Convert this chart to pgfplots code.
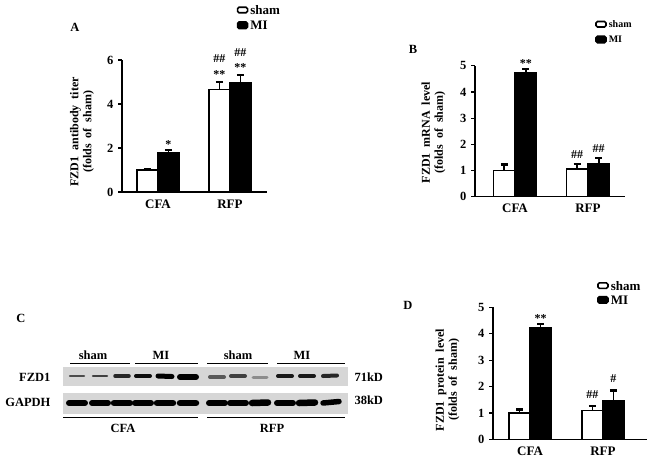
\documentclass[border=0pt]{standalone}
\usepackage{pgfplots}
\pgfplotsset{compat=1.18}
\usepackage{fontspec}
\setmainfont{Liberation Serif}
\newcommand{\lf}{\bfseries\fontsize{12.5}{13}\selectfont}
\newcommand{\stf}{\bfseries\fontsize{12}{12}\selectfont}
\pgfplotsset{
 panel/.style={
   scale only axis, ybar=0pt, clip=false,
   axis x line=bottom, axis y line=left,
   axis line style={-, line width=1.5pt},
   ymin=0, xtick={0,1}, xticklabels={CFA,RFP},
   xtick style={draw=none},
   ytick style={line width=1.2pt, black},
   tick align=outside, major tick length=4pt,
   yticklabel style={font=\bfseries\fontsize{12.5}{13}\selectfont, xshift=-1pt},
   xticklabel style={font=\bfseries\fontsize{13}{14}\selectfont},
   /pgf/number format/assume math mode=true,
   ylabel style={font=\bfseries\fontsize{12}{13}\selectfont, align=center, anchor=south, rotate=0},
   legend style={draw=none, fill=none, anchor=north west, row sep=1pt, inner sep=0pt, /tikz/every even column/.append style={column sep=2pt}},
   legend cell align=left,
 },
 barcommon/.style={draw=black, line width=1.2pt,
   error bars/y dir=plus, error bars/y explicit, error bars/error mark=|,
   error bars/error bar style={line width=1.6pt, black},
   error bars/error mark options={line width=2.5pt, mark size=3.5pt, black}},
 shamb/.style={barcommon, fill=white,
   legend image code/.code={\draw[line width=1.6pt, rounded corners=1.5pt, fill=white] (0pt,-2pt) rectangle (10pt,3.5pt);}},
 mib/.style={barcommon, fill=black,
   legend image code/.code={\draw[line width=1.6pt, rounded corners=1.5pt, fill=black] (0pt,-2.5pt) rectangle (10pt,4pt);}},
}
\begin{document}
\begin{tikzpicture}
\useasboundingbox (0pt,0pt) rectangle (650pt,459pt);
% ---------- canvas (panel C and panel letters), pixel coordinates ----------
\begin{axis}[at={(0pt,0pt)}, anchor=south west, scale only axis, width=650pt, height=459pt,
  xmin=0, xmax=650, ymin=0, ymax=459, y dir=reverse, hide axis, clip=false]
% blot strips
\addplot[fill=black!16, draw=none, forget plot] coordinates {(63,367) (348,367) (348,386) (63,386)} -- cycle;
\addplot[fill=black!16, draw=none, forget plot] coordinates {(63,393) (348,393) (348,414) (63,414)} -- cycle;
% FZD1 bands
\addplot[line width=2.5pt, line cap=round, draw=black!70, forget plot] coordinates {(70,376) (84,376)};
\addplot[line width=2.5pt, line cap=round, draw=black!75, forget plot] coordinates {(93,376) (107,376)};
\addplot[line width=3.5pt, line cap=round, draw=black!85, forget plot] coordinates {(115,376) (129,376)};
\addplot[line width=4pt, line cap=round, draw=black!95, forget plot] coordinates {(136,376) (150,376)};
\addplot[line width=5pt, line cap=round, draw=black, forget plot] coordinates {(158,376) (172,376.5)};
\addplot[line width=6pt, line cap=round, draw=black, forget plot] coordinates {(180,377) (196,377)};
\addplot[line width=4pt, line cap=round, draw=black!65, forget plot] coordinates {(210,377) (224,377)};
\addplot[line width=4pt, line cap=round, draw=black!75, forget plot] coordinates {(231,376) (245,376)};
\addplot[line width=3pt, line cap=round, draw=black!45, forget plot] coordinates {(253,377) (267,377)};
\addplot[line width=4pt, line cap=round, draw=black!90, forget plot] coordinates {(278,376) (292,376)};
\addplot[line width=4pt, line cap=round, draw=black!90, forget plot] coordinates {(300,376) (314,376)};
\addplot[line width=4pt, line cap=round, draw=black!85, forget plot] coordinates {(323,376) (337,375.5)};
% GAPDH bands
\addplot[line width=6pt, line cap=round, draw=black, forget plot] coordinates {(69,403) (85,403)};
\addplot[line width=6pt, line cap=round, draw=black, forget plot] coordinates {(92,403) (108,403)};
\addplot[line width=6.5pt, line cap=round, draw=black, forget plot] coordinates {(114,403) (130,403)};
\addplot[line width=6pt, line cap=round, draw=black, forget plot] coordinates {(135,403) (151,403)};
\addplot[line width=6.5pt, line cap=round, draw=black, forget plot] coordinates {(157,403) (173,403)};
\addplot[line width=6.5pt, line cap=round, draw=black, forget plot] coordinates {(180,403) (196,403)};
\addplot[line width=6pt, line cap=round, draw=black, forget plot] coordinates {(209,403) (225,403)};
\addplot[line width=6pt, line cap=round, draw=black, forget plot] coordinates {(230,403) (246,403)};
\addplot[line width=6.5pt, line cap=round, draw=black, forget plot] coordinates {(252,403) (268,402.5)};
\addplot[line width=6pt, line cap=round, draw=black, forget plot] coordinates {(277,403) (293,403)};
\addplot[line width=6.5pt, line cap=round, draw=black, forget plot] coordinates {(299,403) (315,402.5)};
\addplot[line width=5.5pt, line cap=round, draw=black, forget plot] coordinates {(323,403) (339,401.5)};
% group lines
\addplot[line width=0.9pt, black, forget plot] coordinates {(70,363) (130,363)};
\addplot[line width=0.9pt, black, forget plot] coordinates {(135,363) (198,363)};
\addplot[line width=0.9pt, black, forget plot] coordinates {(207,363) (268,363)};
\addplot[line width=0.9pt, black, forget plot] coordinates {(277,363) (345,363)};
\addplot[line width=0.9pt, black, forget plot] coordinates {(63,417) (198,417)};
\addplot[line width=0.9pt, black, forget plot] coordinates {(207,417) (345,417)};
% texts
\node[font=\lf] at (axis cs:93,355) {sham};
\node[font=\lf] at (axis cs:161,355) {MI};
\node[font=\lf] at (axis cs:238,355) {sham};
\node[font=\lf] at (axis cs:302,355) {MI};
\node[font=\lf] at (axis cs:123,428) {CFA};
\node[font=\lf] at (axis cs:272,428) {RFP};
\node[font=\lf, anchor=east] at (axis cs:54,377) {FZD1};
\node[font=\lf, anchor=east] at (axis cs:54,402) {GAPDH};
\node[font=\lf, anchor=west] at (axis cs:351,377) {71kD};
\node[font=\lf, anchor=west] at (axis cs:351,400) {38kD};
\node[font=\lf] at (axis cs:75,27) {A};
\node[font=\lf] at (axis cs:413,49) {B};
\node[font=\lf] at (axis cs:21,318) {C};
\node[font=\lf] at (axis cs:408,305) {D};
\end{axis}
% ---------- A ----------
\begin{axis}[panel, at={(122pt,267pt)}, anchor=south west, width=145pt, height=132pt,
  xmin=-0.5, xmax=1.514, ymax=6, ytick={0,2,4,6}, bar width=21pt,
  ylabel={FZD1\ \ antibody\ \ titer\\(folds\ \ of\ \ sham)},
  ylabel style={at={(axis description cs:-0.17,0.455)}},
  legend style={at={(axis description cs:0.79,1.43)}, font=\bfseries\fontsize{13}{14}\selectfont}]
\addplot[shamb] coordinates {(0,1.0) +- (0,0.05) (1,4.67) +- (0,0.32)};
\addplot[mib] coordinates {(0,1.8) +- (0,0.12) (1,4.98) +- (0,0.33)};
\legend{sham,MI}
\node[font=\stf, anchor=base, xshift=10.5pt] at (axis cs:0,2.0) {*};
\node[font=\stf, anchor=base, xshift=-10.5pt] at (axis cs:1,5.14) {**};
\node[font=\stf, anchor=base, xshift=-10.5pt] at (axis cs:1,5.9) {\#\#};
\node[font=\stf, anchor=base, xshift=10.5pt] at (axis cs:1,5.5) {**};
\node[font=\stf, anchor=base, xshift=10.5pt] at (axis cs:1,6.14) {\#\#};
\end{axis}
% ---------- B ----------
\begin{axis}[panel, at={(475pt,262.3pt)}, anchor=south west, width=150pt, height=131pt,
  xmin=-0.548, xmax=1.507, ymax=5, ytick={0,1,2,3,4,5}, bar width=21.5pt,
  ylabel={FZD1\ \ mRNA\ \ level\\(folds\ \ of\ \ sham)},
  ylabel style={at={(axis description cs:-0.173,0.49)}},
  legend style={at={(axis description cs:0.8,1.36)}, font=\bfseries\fontsize{10}{11}\selectfont, row sep=3pt}]
\addplot[shamb] coordinates {(0,1.0) +- (0,0.22) (1,1.06) +- (0,0.18)};
\addplot[mib] coordinates {(0,4.75) +- (0,0.12) (1,1.25) +- (0,0.22)};
\legend{sham,MI}
\node[font=\stf, anchor=base, xshift=10.75pt] at (axis cs:0,4.95) {**};
\node[font=\stf, anchor=base, xshift=-10.75pt] at (axis cs:1,1.44) {\#\#};
\node[font=\stf, anchor=base, xshift=10.75pt] at (axis cs:1,1.67) {\#\#};
\end{axis}
% ---------- D ----------
\begin{axis}[panel, at={(493pt,19.7pt)}, anchor=south west, width=154pt, height=132pt,
  xmin=-0.507, xmax=1.603, ymax=5, ytick={0,1,2,3,4,5}, bar width=21pt,
  ylabel={FZD1\ \ protein\ \ level\\(folds\ \ of\ \ sham)},
  ylabel style={at={(axis description cs:-0.195,0.45)}},
  legend style={at={(axis description cs:0.675,1.215)}, font=\bfseries\fontsize{13}{13}\selectfont, row sep=0pt}]
\addplot[shamb] coordinates {(0,1.0) +- (0,0.13) (1,1.08) +- (0,0.18)};
\addplot[mib] coordinates {(0,4.23) +- (0,0.13) (1,1.45) +- (0,0.39)};
\legend{sham,MI}
\node[font=\stf, anchor=base, xshift=10.5pt] at (axis cs:0,4.44) {**};
\node[font=\stf, anchor=base, xshift=-10.5pt] at (axis cs:1,1.56) {\#\#};
\node[font=\stf, anchor=base, xshift=10.5pt] at (axis cs:1,2.17) {\#};
\end{axis}
\end{tikzpicture}
\end{document}
